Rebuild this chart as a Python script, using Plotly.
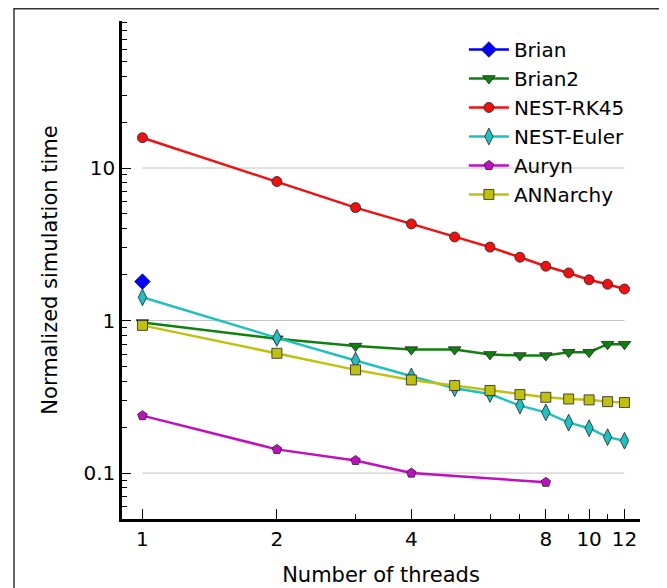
import math
import plotly.graph_objects as go

# ---- data ----
threads = [1, 2, 3, 4, 5, 6, 7, 8, 9, 10, 11, 12]
brian_x = [1]
brian_y = [1.8]
brian2_y = [0.97, 0.76, 0.68, 0.645, 0.645, 0.60, 0.59, 0.59, 0.62, 0.62, 0.70, 0.70]
nest_rk45_y = [15.8, 8.15, 5.5, 4.3, 3.53, 3.03, 2.6, 2.27, 2.05, 1.85, 1.73, 1.61]
nest_euler_y = [1.42, 0.77, 0.547, 0.43, 0.36, 0.33, 0.277, 0.25, 0.214, 0.197, 0.172, 0.163]
auryn_x = [1, 2, 3, 4, 8]
auryn_y = [0.238, 0.143, 0.121, 0.1, 0.087]
annarchy_y = [0.93, 0.61, 0.475, 0.408, 0.375, 0.348, 0.327, 0.314, 0.306, 0.302, 0.294, 0.29]

x_major = [1, 2, 4, 8, 10, 12]
x_major_labels = ["1", "2", "4", "8", "10", "12"]
x_minor = [3, 5, 6, 7, 9, 11]
y_major = [0.1, 1, 10]
y_major_labels = ["0.1", "1", "10"]
grid_y = [0.1, 1, 10]

series = [
    ("Brian", brian_x, brian_y, "#0000ff", "diamond", 12),
    ("Brian2", threads, brian2_y, "#108010", "triangle-down", 11),
    ("NEST-RK45", threads, nest_rk45_y, "#f01010", "circle", 10),
    ("NEST-Euler", threads, nest_euler_y, "#20c0c0", "diamond-tall", 12),
    ("Auryn", auryn_x, auryn_y, "#bf10bf", "pentagon", 10),
    ("ANNarchy", threads, annarchy_y, "#c0c010", "square", 10),
]

FONT = "DejaVu Sans"
fig = go.Figure()

# gridlines spanning only the data x-range
for g in grid_y:
    fig.add_trace(go.Scatter(
        x=[min(threads), max(threads)], y=[g, g], mode="lines",
        line=dict(color="#c4c4c4", width=1), showlegend=False, hoverinfo="skip"))

for name, xs, ys, col, sym, sz in series:
    fig.add_trace(go.Scatter(
        x=xs, y=ys, name=name, mode="lines+markers",
        line=dict(color=col, width=2.5),
        marker=dict(symbol=sym, size=sz, color=col,
                    line=dict(color="#222222", width=0.8)),
    ))

y_minor = [m * 10 ** e for e in range(-2, 2) for m in range(2, 10)]
y_minor = [v for v in y_minor if 0.05 <= v <= 92]

fig.update_xaxes(
    type="log", range=[math.log10(0.9), math.log10(13)],
    tickmode="array", tickvals=x_major, ticktext=x_major_labels,
    ticks="inside", ticklen=10, tickwidth=1, tickcolor="black",
    minor=dict(tickmode="array", tickvals=x_minor, ticks="inside",
               ticklen=5, tickwidth=1, tickcolor="black", showgrid=False),
    showline=True, linecolor="black", linewidth=2.5, showgrid=False, zeroline=False,
    tickfont=dict(family=FONT, size=20, color="black"),
    title=dict(text="Number of threads", font=dict(family=FONT, size=21, color="black"),
               standoff=18),
    automargin=False,
)
fig.update_yaxes(
    type="log", range=[math.log10(0.05), math.log10(92)],
    tickmode="array", tickvals=y_major, ticktext=y_major_labels,
    ticks="inside", ticklen=9, tickwidth=1, tickcolor="black",
    minor=dict(tickmode="array", tickvals=y_minor, ticks="inside",
               ticklen=5, tickwidth=1, tickcolor="black", showgrid=False),
    showline=True, linecolor="black", linewidth=2.5, showgrid=False, zeroline=False,
    tickfont=dict(family=FONT, size=20, color="black"),
    title=dict(text="Normalized simulation time", font=dict(family=FONT, size=21, color="black"),
               standoff=21),
    automargin=False,
)

# outer frame (partly outside the visible page)
fig.add_shape(type="rect", xref="paper", yref="paper",
              x0=-0.2085, x1=1.3, y0=-0.4, y1=1.0246,
              line=dict(color="#333333", width=1.5), fillcolor="rgba(0,0,0,0)", layer="below")

fig.update_layout(
    width=667, height=588,
    margin=dict(l=114, r=35, t=13, b=77),
    paper_bgcolor="white", plot_bgcolor="white",
    font=dict(family=FONT, size=20, color="black"),
    legend=dict(x=0.66, y=0.982, xanchor="left", yanchor="top",
                bgcolor="rgba(0,0,0,0)", borderwidth=0,
                font=dict(family=FONT, size=20, color="black"),
                itemwidth=40),
    showlegend=True,
)

fig.write_html("out.html")
